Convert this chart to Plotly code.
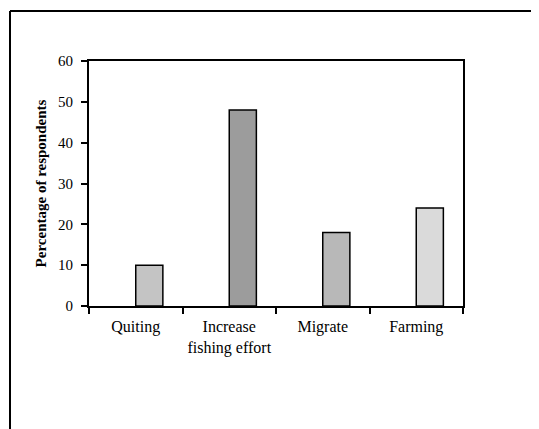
import plotly.graph_objects as go

categories = ["Quiting", "Increase<br>fishing effort", "Migrate", "Farming"]
values = [10, 48, 18, 24]
y_ticks = [0, 10, 20, 30, 40, 50, 60]
bar_colors = ["#c4c4c4", "#9c9c9c", "#b8b8b8", "#dadada"]

# page body has an 8px margin; the figure is sized to fill the rest of the window
OFF = 8
W, H = 539 - OFF, 429 - OFF
L, R, T, B = 89 - OFF, 463 - OFF, 61 - OFF, 306 - OFF

def px(x):
    return (x - OFF - L) / (R - L)

def py(y):
    return (B - (y - OFF)) / (B - T)

fig = go.Figure()
fig.add_trace(go.Bar(
    x=categories, y=values, width=0.29, offset=0.0,
    marker=dict(color=bar_colors, line=dict(color="black", width=1.5)),
    showlegend=False,
))

font = dict(family="Liberation Serif, Times New Roman, serif", size=15, color="black")
xfont = dict(family="Liberation Serif, Times New Roman, serif", size=16, color="black")

fig.update_layout(
    width=W, height=H,
    margin=dict(l=L, r=W - R, t=T, b=H - B, autoexpand=False),
    paper_bgcolor="white", plot_bgcolor="white",
    font=font,
    xaxis=dict(
        type="category", range=[-0.5, 3.5], tickangle=0,
        showline=True, linecolor="black", linewidth=2, mirror=True,
        ticks="outside", tickson="boundaries", ticklen=6, tickcolor="black", tickwidth=1.5,
        ticklabelstandoff=5,
        showgrid=False, zeroline=False, tickfont=xfont,
    ),
    yaxis=dict(
        range=[0, 60], tickvals=y_ticks,
        showline=True, linecolor="black", linewidth=2, mirror=True,
        ticks="outside", ticklen=6, tickcolor="black", tickwidth=1.5,
        ticklabelstandoff=5,
        showgrid=False, zeroline=False, tickfont=font,
        title=dict(text="<b>Percentage of respondents</b>", font=font, standoff=8),
    ),
    shapes=[
        dict(type="line", xref="paper", yref="paper", x0=px(10), y0=py(11), x1=px(560), y1=py(11),
             line=dict(color="black", width=2)),
        dict(type="line", xref="paper", yref="paper", x0=px(10), y0=py(11), x1=px(10), y1=py(450),
             line=dict(color="black", width=2)),
    ],
)

fig.write_html("out.html")
